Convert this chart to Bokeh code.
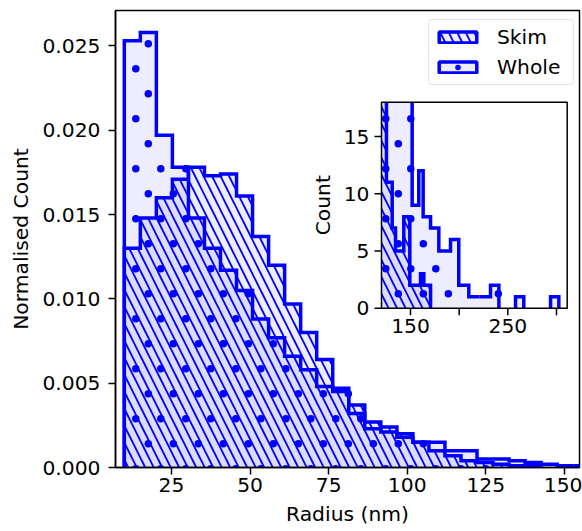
import math
from bokeh.plotting import figure
from bokeh.models import Range1d, FixedTicker, NumeralTickFormatter, Legend, LegendItem
from bokeh.core.properties import value
from bokeh.embed import file_html
from bokeh.resources import INLINE

# ---------------- data ----------------
bin_edges = [10.0, 15.1, 20.2, 25.3, 30.4, 35.5, 40.6, 45.7, 50.8, 55.9, 61.0,
             66.1, 71.2, 76.3, 81.4, 86.5, 91.6, 96.7, 101.8, 106.9, 112.0,
             117.1, 122.2, 127.3, 132.4, 137.5, 142.6, 147.7, 152.8, 157.9]
whole_density = [0.0253, 0.0258, 0.0197, 0.0178, 0.0148, 0.0130, 0.0117, 0.0105,
                 0.0088, 0.0077, 0.0066, 0.0058, 0.0048, 0.0045, 0.0032, 0.0023,
                 0.0021, 0.0018, 0.0015, 0.0015, 0.0010, 0.0010, 0.0005, 0.0005,
                 0.0004, 0.0003, 0.0002, 0.0001, 0.0001]
skim_density = [0.0130, 0.0148, 0.0160, 0.0171, 0.0178, 0.0173, 0.0174, 0.0161,
                0.0137, 0.0120, 0.0097, 0.0080, 0.0064, 0.0047, 0.0037, 0.0027,
                0.0024, 0.0020, 0.0015, 0.0010, 0.0007, 0.0004, 0.0003, 0.0002,
                0.0001, 0.0001, 0.0, 0.0, 0.0]
x_ticks = [25, 50, 75, 100, 125, 150]
y_ticks = [0.0, 0.005, 0.010, 0.015, 0.020, 0.025]

inset_whole_edges = [110.0, 151.7, 158.5, 163.0, 170.6, 179.1, 191.1, 199.6, 209.9,
                     221.0, 232.2, 240.8, 257.9, 266.4, 293.9, 302.4]
inset_whole_counts = [40, 9, 12, 8, 7, 5, 6, 2, 1, 1, 2, 0, 1, 0, 1]
inset_skim_edges = [110.0, 125.3, 131.2, 134.6, 143.1, 149.3, 160.3, 163.7, 170.6]
inset_skim_counts = [30, 11, 7, 5, 8, 2, 3, 2]
inset_x_ticks = [150, 200, 250, 300]
inset_x_labels = ["150", "", "250", ""]
inset_y_ticks = [0, 5, 10, 15]
inset_y_labels = ["0", "5", "10", "15"]

series_names = ["Skim", "Whole"]

# ---------------- style / layout ----------------
FONT = "DejaVu Sans"
FS = "20.3px"
BLUE = "#0000ff"
W, H = 582, 531
FL, FT, FR, FB = 115, 10, 579, 467          # frame box in figure pixels
X0, X1 = 7.2, 154.8
Y0, Y1 = 0.0, 0.0271
# inset box inside the frame (pixels from frame left / top)
IL, IR, IT, IB = 266.0, 451.7, 91.7, 297.7
IX0, IX1 = 120.2, 311.0
IY0, IY1 = 0.0, 18.0
# '.' hatch lattice (screen pixels), staggered rows
DOT_X0, DOT_Y0, DOT_DX, DOT_DY, DOT_SIZE = 135.3, 43.3, 25.0, 25.0, 7.5

p = figure(width=W, height=H, output_backend="svg", toolbar_location=None,
           x_range=Range1d(X0, X1), y_range=Range1d(Y0, Y1),
           min_border_left=FL, min_border_right=W - FR,
           min_border_top=FT, min_border_bottom=H - FB)
p.background_fill_color = "white"
p.border_fill_color = "white"
p.grid.visible = False
p.outline_line_color = "black"
p.outline_line_width = 1.5

for ax in (p.xaxis[0], p.yaxis[0]):
    ax.axis_line_width = 1.5
    ax.major_tick_line_width = 1.5
    ax.major_tick_out = 7
    ax.major_tick_in = 0
    ax.minor_tick_line_color = None
    ax.major_label_text_font = FONT
    ax.major_label_text_font_size = FS
    ax.major_label_text_color = "black"
    ax.axis_label_text_font = FONT
    ax.axis_label_text_font_size = FS
    ax.axis_label_text_font_style = "normal"
    ax.axis_label_text_color = "black"

p.xaxis.ticker = FixedTicker(ticks=x_ticks)
p.yaxis.ticker = FixedTicker(ticks=y_ticks)
p.yaxis.formatter = NumeralTickFormatter(format="0.000")
p.xaxis.axis_label = "Radius (nm)"
p.yaxis.axis_label = "Normalised Count"
p.xaxis.major_label_standoff = 3
p.xaxis.axis_label_standoff = 7
p.yaxis.major_label_standoff = 8
p.yaxis.axis_label_standoff = 6

fill_kw = dict(fill_color=BLUE, fill_alpha=0.07)
hatch_kw = {
    "Skim": dict(hatch_pattern="left_diagonal_line", hatch_scale=17, hatch_weight=1.8,
                 hatch_color=BLUE, hatch_alpha=1.0),
    "Whole": dict(),
}


def step_points(edges, vals):
    xs, ys = [edges[0]], [0.0]
    for i, v in enumerate(vals):
        xs += [edges[i], edges[i + 1]]
        ys += [v, v]
    xs.append(edges[-1])
    ys.append(0.0)
    return xs, ys


def clamp_points(xs, ys, xlo, xhi, ylo, yhi):
    return ([min(max(x, xlo), xhi) for x in xs], [min(max(y, ylo), yhi) for y in ys])


def outline_pieces(xs, ys, xlo, xhi, ylo, yhi):
    pieces_x, pieces_y = [], []
    cx, cy = [], []
    for i in range(len(xs) - 1):
        x0, y0, x1, y1 = xs[i], ys[i], xs[i + 1], ys[i + 1]
        on_edge = ((x0 == x1 and (x0 == xlo or x0 == xhi)) or
                   (y0 == y1 and (y0 == ylo or y0 == yhi)) or
                   (x0 == x1 and y0 == y1))
        if on_edge:
            if len(cx) > 1:
                pieces_x.append(cx); pieces_y.append(cy)
            cx, cy = [], []
            continue
        if not cx:
            cx, cy = [x0], [y0]
        cx.append(x1); cy.append(y1)
    if len(cx) > 1:
        pieces_x.append(cx); pieces_y.append(cy)
    return pieces_x, pieces_y


def lattice():
    pts = []
    for j in range(-3, int((H - DOT_Y0) / DOT_DY) + 3):
        py = DOT_Y0 + j * DOT_DY
        off = 0.0 if j % 2 else DOT_DX / 2
        for i in range(-8, int(W / DOT_DX) + 3):
            pts.append((DOT_X0 + off + i * DOT_DX, py))
    return pts


def inside_step(x, y, edges, vals, ytop=None):
    for i, v in enumerate(vals):
        if edges[i] <= x < edges[i + 1]:
            top = v if ytop is None else min(v, ytop)
            return y <= top
    return False


# ---------------- main histograms ----------------
main_data = {"Skim": skim_density, "Whole": whole_density}
for name in series_names:
    xs, ys = step_points(bin_edges, main_data[name])
    p.patch(xs, ys, line_alpha=0, **fill_kw, **hatch_kw[name])

# dotted hatch of "Whole"
ppx = (X1 - X0) / (FR - FL)
ppy = (Y1 - Y0) / (FB - FT)
dx, dy = [], []
for (qx, qy) in lattice():
    if qy > FB + 3 or qx < FL - 3 or qx > FR + 3:
        continue
    x = X0 + (qx - FL) * ppx
    y = Y0 + (FB - qy) * ppy
    if inside_step(x, max(y, 0.0), bin_edges, whole_density):
        dx.append(x); dy.append(y)
p.scatter(dx, dy, size=DOT_SIZE, marker="circle", fill_color=BLUE, line_color=None)

legend_items = []
off = X0 - 10
for name in series_names:
    xs, ys = step_points(bin_edges, main_data[name])
    px_, py_ = outline_pieces(xs, ys, -1e9, 1e9, 0.0, 1e9)
    p.multi_line(px_, py_, line_color=BLUE, line_width=3.5, line_join="miter")
    # legend-only swatches, placed outside the visible x range
    rs = [p.patch([off, off - 1, off - 1], [0.0, 0.0, Y1 / 10], line_color=BLUE,
                  line_width=3.5, **fill_kw, **hatch_kw[name])]
    if name == "Whole":
        rs.append(p.scatter([off], [Y1 / 20], size=DOT_SIZE, marker="circle",
                            fill_color=BLUE, line_color=None))
    legend_items.append(LegendItem(label=name, renderers=rs))

# ---------------- inset ----------------
fw, fh = FR - FL, FB - FT
sx = (IR - IL) / (IX1 - IX0)
sy = (IB - IT) / (IY1 - IY0)
p.extra_x_ranges = {"ix": Range1d(IX0 - IL / sx, IX0 + (fw - IL) / sx)}
p.extra_y_ranges = {"iy": Range1d(IY0 - (fh - IB) / sy, IY1 + IT / sy)}
ik = dict(x_range_name="ix", y_range_name="iy")

p.quad(left=[IX0], right=[IX1], bottom=[IY0], top=[IY1], fill_color="white",
       line_color=None, **ik)

inset_data = {"Skim": (inset_skim_edges, inset_skim_counts),
              "Whole": (inset_whole_edges, inset_whole_counts)}
for name in series_names:
    e, c = inset_data[name]
    xs, ys = clamp_points(*step_points(e, c), IX0, IX1, IY0, IY1)
    p.patch(xs, ys, line_alpha=0, **fill_kw, **hatch_kw[name], **ik)

idx, idy = [], []
for (qx, qy) in lattice():
    x = IX0 + (qx - (FL + IL)) / sx
    y = IY0 + ((FT + IB) - qy) / sy
    if IX0 <= x <= IX1 and IY0 - 0.25 <= y <= IY1 + 0.25:
        if inside_step(x, max(y, 0.0), inset_whole_edges, inset_whole_counts, IY1 + 1):
            idx.append(x); idy.append(y)
p.scatter(idx, idy, size=DOT_SIZE, marker="circle", fill_color=BLUE, line_color=None, **ik)

for name in series_names:
    e, c = inset_data[name]
    xs, ys = clamp_points(*step_points(e, c), IX0, IX1, IY0, IY1)
    px_, py_ = outline_pieces(xs, ys, IX0, IX1, IY0, IY1)
    p.multi_line(px_, py_, line_color=BLUE, line_width=3.5, line_join="miter", **ik)

# inset frame
p.quad(left=[IX0], right=[IX1], bottom=[IY0], top=[IY1], fill_alpha=0,
       line_color="black", line_width=1.5, **ik)
# inset ticks
tk = 7.0
p.segment(x0=inset_x_ticks, y0=[IY0] * len(inset_x_ticks), x1=inset_x_ticks,
          y1=[IY0 - tk / sy] * len(inset_x_ticks), line_color="black", line_width=1.5, **ik)
p.segment(x0=[IX0] * len(inset_y_ticks), y0=inset_y_ticks, x1=[IX0 - tk / sx] * len(inset_y_ticks),
          y1=inset_y_ticks, line_color="black", line_width=1.5, **ik)
p.text(x=inset_x_ticks, y=[IY0] * len(inset_x_ticks), text=inset_x_labels,
       text_align="center", text_baseline="top", y_offset=tk + 4,
       text_font=value(FONT), text_font_size=FS, text_color="black", **ik)
p.text(x=[IX0] * len(inset_y_ticks), y=inset_y_ticks, text=inset_y_labels,
       text_align="right", text_baseline="middle", x_offset=-(tk + 5),
       text_font=value(FONT), text_font_size=FS, text_color="black", **ik)
p.text(x=[IX0], y=[(IY0 + IY1) / 2], text=["Count"], angle=math.pi / 2,
       text_align="center", text_baseline="middle", x_offset=-59,
       text_font=value(FONT), text_font_size=FS, text_color="black", **ik)

# ---------------- legend ----------------
legend = Legend(items=legend_items, location=(428 - FL, FB - 85))
legend.margin = 0
legend.padding = 5
legend.spacing = 6
legend.glyph_width = 47
legend.glyph_height = 14
legend.label_standoff = 16
legend.label_width = 71
legend.label_text_font = FONT
legend.label_text_font_size = FS
legend.label_text_color = "black"
legend.border_line_color = "#cccccc"
legend.border_line_width = 1.5
legend.background_fill_alpha = 0.8
if "border_radius" in Legend.properties():
    legend.border_radius = 4
p.add_layout(legend)

open("out.html", "w").write(file_html(p, INLINE))
